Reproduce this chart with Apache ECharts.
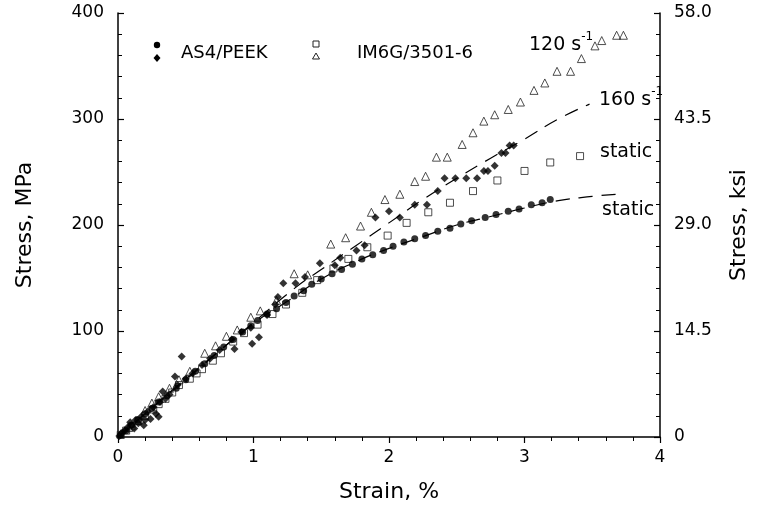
<!DOCTYPE html>
<html>
<head>
<meta charset="utf-8">
<script src="https://cdn.jsdelivr.net/npm/echarts@6/dist/echarts.min.js"></script>
<style>html,body{margin:0;padding:0;background:#fff}#c{width:764px;height:511px}</style>
</head>
<body>
<div id="c"></div>
<script>
// Strain (%) , Stress (MPa)
var as4Static = [[0.02,2],[0.06,6],[0.1,11],[0.15,16],[0.2,22],[0.25,27],[0.3,33],[0.36,39],[0.43,46],[0.5,54],[0.57,62],[0.64,69],[0.71,77],[0.78,85],[0.85,92],[0.92,99],[0.98,105],[1.03,110],[1.1,116],[1.17,121],[1.24,127],[1.30,133],[1.37,138],[1.43,144],[1.50,149],[1.58,154],[1.65,158],[1.73,163],[1.80,168],[1.88,172],[1.96,176],[2.03,180],[2.11,184],[2.19,187],[2.27,190],[2.36,194],[2.45,197],[2.53,201],[2.61,204],[2.71,207],[2.79,210],[2.88,213],[2.96,215],[3.05,219],[3.13,221],[3.19,224]];
var as4Rate160 = [[0.01,1],[0.03,4],[0.05,6],[0.07,9],[0.09,14],[0.1,11],[0.12,8],[0.13,16],[0.15,13],[0.17,19],[0.19,11],[0.2,16],[0.22,24],[0.24,17],[0.26,28],[0.28,22],[0.3,19],[0.31,33],[0.33,43],[0.35,36],[0.38,40],[0.42,57],[0.44,49],[0.47,76],[0.5,55],[0.55,60],[0.62,68],[0.68,74],[0.75,82],[0.84,92],[0.86,83],[0.91,99],[0.98,103],[0.99,88],[1.04,94],[1.10,115],[1.16,125],[1.18,132],[1.22,145],[1.31,145],[1.38,151],[1.49,164],[1.60,162],[1.64,169],[1.76,176],[1.82,181],[1.90,207],[2.0,213],[2.08,207],[2.19,219],[2.28,219],[2.36,232],[2.41,244],[2.49,244],[2.57,244],[2.65,244],[2.70,251],[2.73,251],[2.78,256],[2.83,268],[2.86,268],[2.89,275],[2.92,275]];
var im6gStatic = [[0.02,2],[0.06,6],[0.1,10],[0.15,15],[0.2,20],[0.26,26],[0.3,31],[0.35,36],[0.4,42],[0.45,49],[0.53,55],[0.58,60],[0.62,64],[0.7,72],[0.76,79],[0.85,90],[0.93,98],[1.03,106],[1.14,116],[1.24,125],[1.36,136],[1.47,148],[1.59,159],[1.70,168],[1.84,179],[1.99,190],[2.13,202],[2.29,212],[2.45,221],[2.62,232],[2.80,242],[3.0,251],[3.19,259],[3.41,265]];
var im6gRate120 = [[0.02,3],[0.08,9],[0.14,16],[0.2,25],[0.25,32],[0.3,38],[0.38,46],[0.45,54],[0.53,62],[0.64,79],[0.72,86],[0.8,95],[0.88,101],[0.98,113],[1.05,119],[1.17,129],[1.3,154],[1.40,153],[1.57,182],[1.68,188],[1.79,199],[1.87,212],[1.97,224],[2.08,229],[2.19,241],[2.27,246],[2.35,264],[2.43,264],[2.54,276],[2.62,287],[2.70,298],[2.78,304],[2.88,309],[2.97,316],[3.07,327],[3.15,334],[3.24,345],[3.34,345],[3.42,357],[3.52,369],[3.57,374],[3.68,379],[3.73,379]];
var fitStatic = [[0,0],[0.5,54],[1.0,107],[1.25,128],[1.5,149],[1.75,165],[2.0,178],[2.25,189],[2.5,200],[2.75,208],[3.0,216],[3.25,223],[3.5,227],[3.68,229]];
var fit160 = [[0,0],[0.5,55],[1.0,108],[1.3,140],[1.5,158],[1.75,180],[2.0,202],[2.25,224],[2.5,244],[2.75,263],[3.0,281],[3.25,300],[3.48,314]];
var xTicks = [0,1,2,3,4];
var leftTicks = [0,100,200,300,400];
var rightTickLabels = ['0','14.5','29.0','43.5','58.0'];

var FONT = 'DejaVu Sans';
var chart = echarts.init(document.getElementById('c'));
var openStyle = {color:'rgba(0,0,0,0)', borderColor:'#222', borderWidth:1};
var rich = {a:{fontFamily:FONT, fontSize:19, fill:'#000', lineHeight:24, verticalAlign:'bottom'}, s:{fontFamily:FONT, fontSize:12, fill:'#000', lineHeight:24, verticalAlign:'top'}};
chart.setOption({
  animation:false,
  backgroundColor:'#fff',
  grid:{left:118, right:104, top:13, bottom:74},
  textStyle:{fontFamily:FONT, color:'#000'},
  xAxis:{type:'value', min:xTicks[0], max:xTicks[xTicks.length-1], interval:1,
    name:'Strain, %', nameLocation:'middle', nameGap:44,
    nameTextStyle:{fontFamily:FONT, fontSize:22, color:'#000'},
    axisLine:{lineStyle:{color:'#000', width:1.5}},
    axisTick:{inside:false, length:6, lineStyle:{color:'#000', width:1.2}},
    minorTick:{show:true, splitNumber:5, length:4, lineStyle:{color:'#000'}},
    axisLabel:{fontFamily:FONT, fontSize:17, color:'#000', margin:12},
    splitLine:{show:false}},
  yAxis:[
    {type:'value', min:leftTicks[0], max:leftTicks[leftTicks.length-1], interval:100, position:'left',
     name:'Stress, MPa', nameLocation:'middle', nameGap:82, nameRotate:90,
     nameTextStyle:{fontFamily:FONT, fontSize:22, color:'#000'},
     axisLine:{show:true, lineStyle:{color:'#000', width:1.5}},
     axisTick:{inside:true, length:6, lineStyle:{color:'#000', width:1.2}},
     minorTick:{show:true, splitNumber:5, length:4, lineStyle:{color:'#000'}},
     axisLabel:{fontFamily:FONT, fontSize:17, color:'#000', margin:14},
     splitLine:{show:false}},
    {type:'value', min:0, max:58, interval:14.5, position:'right',
     name:'Stress, ksi', nameLocation:'middle', nameGap:68, nameRotate:90,
     nameTextStyle:{fontFamily:FONT, fontSize:22, color:'#000'},
     axisLine:{show:true, lineStyle:{color:'#000', width:1.5}},
     axisTick:{inside:true, length:6, lineStyle:{color:'#000', width:1.2}},
     minorTick:{show:true, splitNumber:5, length:4, lineStyle:{color:'#000'}},
     axisLabel:{fontFamily:FONT, fontSize:17, color:'#000', margin:14,
       formatter:function(v){ var i=Math.round(v/14.5); return rightTickLabels[i]; }},
     splitLine:{show:false}}
  ],
  series:[
    {name:'AS4/PEEK static fit', type:'line', data:fitStatic, smooth:true, showSymbol:false, z:1,
     lineStyle:{color:'#000', width:1.2, type:[14,9]}},
    {name:'AS4/PEEK 160 fit', type:'line', data:fit160, smooth:true, showSymbol:false, z:1,
     lineStyle:{color:'#000', width:1.2, type:[14,9]}},
    {name:'IM6G static', type:'scatter', data:im6gStatic, symbol:'rect', symbolSize:7, itemStyle:openStyle},
    {name:'IM6G 120', type:'scatter', data:im6gRate120, symbol:'triangle', symbolSize:8, itemStyle:openStyle},
    {name:'AS4/PEEK static', type:'scatter', data:as4Static, symbol:'circle', symbolSize:7, itemStyle:{color:'#000'}},
    {name:'AS4/PEEK 160', type:'scatter', data:as4Rate160, symbol:'diamond', symbolSize:8, itemStyle:{color:'#000'}}
  ],
  graphic:[
    {type:'circle', shape:{cx:157, cy:45, r:3.2}, style:{fill:'#000'}},
    {type:'polygon', shape:{points:[[157,54],[160.5,58],[157,62],[153.5,58]]}, style:{fill:'#000'}},
    {type:'text', left:181, top:44, style:{text:'AS4/PEEK', font:'18px "DejaVu Sans"', fill:'#000'}},
    {type:'rect', shape:{x:313, y:41, width:6, height:6}, style:{fill:'none', stroke:'#222', lineWidth:1}},
    {type:'polygon', shape:{points:[[316,53],[319.5,59],[312.5,59]]}, style:{fill:'none', stroke:'#222', lineWidth:1}},
    {type:'text', left:357, top:44, style:{text:'IM6G/3501-6', font:'18px "DejaVu Sans"', fill:'#000'}},
    {type:'text', left:529, top:31, style:{rich:rich, text:'{a|120 s}{s|-1}'}},
    {type:'text', left:599, top:86, style:{rich:rich, text:'{a|160 s}{s|-1}'}},
    {type:'text', left:600, top:143, style:{text:'static', font:'19px "DejaVu Sans"', fill:'#000'}},
    {type:'text', left:602, top:201, style:{text:'static', font:'19px "DejaVu Sans"', fill:'#000'}}
  ]
});
</script>
</body>
</html>
